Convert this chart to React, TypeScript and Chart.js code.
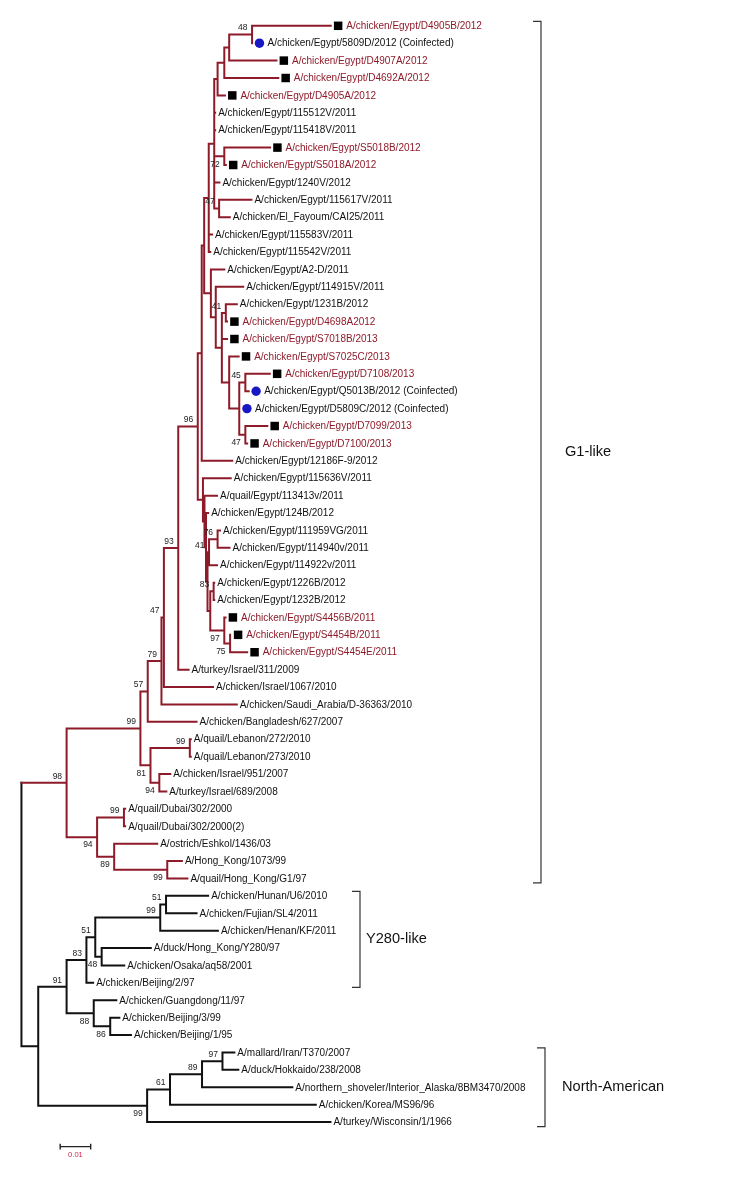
import React, { useEffect, useRef } from 'react';
import { Chart, registerables } from 'chart.js';

Chart.register(...registerables);

// ---------------- data ----------------
const leafNames: string[] = [
  'A/chicken/Egypt/D4905B/2012',
  'A/chicken/Egypt/5809D/2012 (Coinfected)',
  'A/chicken/Egypt/D4907A/2012',
  'A/chicken/Egypt/D4692A/2012',
  'A/chicken/Egypt/D4905A/2012',
  'A/chicken/Egypt/115512V/2011',
  'A/chicken/Egypt/115418V/2011',
  'A/chicken/Egypt/S5018B/2012',
  'A/chicken/Egypt/S5018A/2012',
  'A/chicken/Egypt/1240V/2012',
  'A/chicken/Egypt/115617V/2011',
  'A/chicken/El_Fayoum/CAI25/2011',
  'A/chicken/Egypt/115583V/2011',
  'A/chicken/Egypt/115542V/2011',
  'A/chicken/Egypt/A2-D/2011',
  'A/chicken/Egypt/114915V/2011',
  'A/chicken/Egypt/1231B/2012',
  'A/chicken/Egypt/D4698A2012',
  'A/chicken/Egypt/S7018B/2013',
  'A/chicken/Egypt/S7025C/2013',
  'A/chicken/Egypt/D7108/2013',
  'A/chicken/Egypt/Q5013B/2012 (Coinfected)',
  'A/chicken/Egypt/D5809C/2012 (Coinfected)',
  'A/chicken/Egypt/D7099/2013',
  'A/chicken/Egypt/D7100/2013',
  'A/chicken/Egypt/12186F-9/2012',
  'A/chicken/Egypt/115636V/2011',
  'A/quail/Egypt/113413v/2011',
  'A/chicken/Egypt/124B/2012',
  'A/chicken/Egypt/111959VG/2011',
  'A/chicken/Egypt/114940v/2011',
  'A/chicken/Egypt/114922v/2011',
  'A/chicken/Egypt/1226B/2012',
  'A/chicken/Egypt/1232B/2012',
  'A/chicken/Egypt/S4456B/2011',
  'A/chicken/Egypt/S4454B/2011',
  'A/chicken/Egypt/S4454E/2011',
  'A/turkey/Israel/311/2009',
  'A/chicken/Israel/1067/2010',
  'A/chicken/Saudi_Arabia/D-36363/2010',
  'A/chicken/Bangladesh/627/2007',
  'A/quail/Lebanon/272/2010',
  'A/quail/Lebanon/273/2010',
  'A/chicken/Israel/951/2007',
  'A/turkey/Israel/689/2008',
  'A/quail/Dubai/302/2000',
  'A/quail/Dubai/302/2000(2)',
  'A/ostrich/Eshkol/1436/03',
  'A/Hong_Kong/1073/99',
  'A/quail/Hong_Kong/G1/97',
  'A/chicken/Hunan/U6/2010',
  'A/chicken/Fujian/SL4/2011',
  'A/chicken/Henan/KF/2011',
  'A/duck/Hong_Kong/Y280/97',
  'A/chicken/Osaka/aq58/2001',
  'A/chicken/Beijing/2/97',
  'A/chicken/Guangdong/11/97',
  'A/chicken/Beijing/3/99',
  'A/chicken/Beijing/1/95',
  'A/mallard/Iran/T370/2007',
  'A/duck/Hokkaido/238/2008',
  'A/northern_shoveler/Interior_Alaska/8BM3470/2008',
  'A/chicken/Korea/MS96/96',
  'A/turkey/Wisconsin/1/1966',
];

// distance from root (substitutions/site) at the tip of each leaf
const leafDist: number[] = [
  0.1014, 0.0756, 0.0836, 0.0842, 0.0667, 0.0635, 0.0635, 0.0815, 0.0670, 0.0649,
  0.0754, 0.0683, 0.0625, 0.0619, 0.0665, 0.0727, 0.0706, 0.0674, 0.0674, 0.0712,
  0.0814, 0.0745, 0.0715, 0.0806, 0.0740, 0.0691, 0.0686, 0.0641, 0.0612, 0.0651,
  0.0682, 0.0641, 0.0632, 0.0632, 0.0669, 0.0686, 0.0740, 0.0548, 0.0628, 0.0706,
  0.0574, 0.0555, 0.0555, 0.0488, 0.0475, 0.0340, 0.0340, 0.0445, 0.0526, 0.0544,
  0.0612, 0.0574, 0.0644, 0.0424, 0.0337, 0.0235, 0.0311, 0.0321, 0.0359, 0.0698,
  0.0711, 0.0888, 0.0965, 0.1013,
];

const leafParent: string[] = [
  'n48', 'n48', 'Na', 'Nb', 'Nc', 'P', 'P', 'n72', 'n72', 'P',
  'n47u', 'n47u', 'Q', 'Q', 'N7', 'N6', 'n41', 'n41', 'N5', 'N2',
  'n45', 'n45', 'N1', 'n47e', 'n47e', 'U', 'L0', 'Lr', 'L2', 'n76',
  'n76', 'n41b', 'n83', 'n83', 'n97', 'n75', 'n75', 'n93', 'n47', 'n79',
  'n57', 'n99L', 'n99L', 'n94b', 'n94b', 'nDub', 'nDub', 'n89', 'n99HK', 'n99HK',
  'n51b', 'n51b', 'n99Y', 'n48Y', 'n48Y', 'n83Y', 'n88', 'n86', 'n86', 'n97NA',
  'n97NA', 'n89NA', 'n61', 'n99NA',
];

// 0 = none, 1 = black square (study isolate), 2 = blue circle (co-infected)
const leafMark: number[] = [
  1, 2, 1, 1, 1, 0, 0, 1, 1, 0,
  0, 0, 0, 0, 0, 0, 0, 1, 1, 1,
  1, 2, 2, 1, 1, 0, 0, 0, 0, 0,
  0, 0, 0, 0, 1, 1, 1, 0, 0, 0,
  0, 0, 0, 0, 0, 0, 0, 0, 0, 0,
  0, 0, 0, 0, 0, 0, 0, 0, 0, 0,
  0, 0, 0, 0,
];

const nodeIds: string[] = [
  'root', 'B', 'n98', 'n99a', 'n57', 'n79', 'n47', 'n93', 'n96', 'U',
  'UU', 'Q', 'P', 'Nc', 'Nb', 'Na', 'n48', 'n72', 'n47u', 'N7',
  'N6', 'N5', 'n41', 'N2', 'N1', 'n45', 'n47e', 'L0', 'Lr', 'L2',
  'L1a', 'n41b', 'n76', 'L1b', 'n83', 'n97', 'n75', 'n81', 'n99L', 'n94b',
  'n94c', 'nDub', 'n89', 'n99HK', 'n91', 'n83Y', 'n51', 'n99Y', 'n51b', 'n48Y',
  'n88', 'n86', 'n99NA', 'n61', 'n89NA', 'n97NA',
];

const nodeParents: string[] = [
  '', 'root', 'root', 'n98', 'n99a', 'n57', 'n79', 'n47', 'n93', 'n96',
  'U', 'UU', 'Q', 'P', 'Nc', 'Nb', 'Na', 'P', 'P', 'UU',
  'N7', 'N6', 'N5', 'N5', 'N2', 'N1', 'N1', 'n96', 'L0', 'Lr',
  'L2', 'L1a', 'n41b', 'L1a', 'L1b', 'L1b', 'n97', 'n99a', 'n81', 'n81',
  'n98', 'n94c', 'n94c', 'n89', 'B', 'n91', 'n83Y', 'n51', 'n99Y', 'n51',
  'n91', 'n88', 'B', 'n99NA', 'n61', 'n89NA',
];

const nodeDist: number[] = [
  0.0, 0.0055, 0.0148, 0.0390, 0.0414, 0.0459, 0.0467, 0.0514, 0.0578, 0.0591,
  0.0599, 0.0614, 0.0632, 0.0643, 0.0665, 0.0681, 0.0756, 0.0665, 0.0648, 0.0621,
  0.0637, 0.0657, 0.0670, 0.0681, 0.0714, 0.0734, 0.0734, 0.0595, 0.0600, 0.0605,
  0.0610, 0.0615, 0.0643, 0.0619, 0.0630, 0.0665, 0.0684, 0.0423, 0.0552, 0.0452,
  0.0248, 0.0336, 0.0304, 0.0478, 0.0148, 0.0213, 0.0242, 0.0455, 0.0474, 0.0263,
  0.0237, 0.0291, 0.0412, 0.0487, 0.0592, 0.0659,
];

// bootstrap support ('' = not shown)
const nodeSupport: string[] = [
  '', '', '98', '99', '57', '79', '47', '93', '96', '',
  '', '', '', '', '', '', '48', '72', '47', '',
  '', '', '41', '', '', '45', '47', '', '', '',
  '', '41', '76', '', '83', '97', '75', '81', '99', '94',
  '94', '99', '89', '99', '91', '83', '51', '99', '51', '48',
  '88', '86', '99', '61', '89', '97',
];

// 1 = label above the branch, -1 = below
const nodeSupportSide: number[] = [
  0, 0, 1, 1, 1, 1, 1, 1, 1, 0,
  0, 0, 0, 0, 0, 0, 1, -1, 1, 0,
  0, 0, 1, 0, 0, 1, -1, 0, 0, 0,
  0, 1, 1, 0, 1, -1, -1, -1, 1, -1,
  -1, 1, -1, -1, 1, 1, 1, 1, 1, -1,
  -1, -1, -1, 1, 1, 1,
];

const cladeNames: string[] = ['G1-like', 'Y280-like', 'North-American'];
const cladeFirstLeaf: number[] = [0, 50, 59];
const cladeLastLeaf: number[] = [49, 55, 63];
const redCladeRoot = 'n98';
const scaleBarValue = 0.01;
const scaleBarLabel = '0.01';

// ---------------- layout / style ----------------
const W = 750;
const H = 1180;
const PX_PER_UNIT = 3100; // 0.01 = 31 px
const ROOT_PX = 15.7;
const LEAF_STEP = 17.58;
const FIRST_LEAF_PX = 20;
const X_MIN = -ROOT_PX / PX_PER_UNIT;
const X_MAX = X_MIN + W / PX_PER_UNIT;
const Y_MIN = -FIRST_LEAF_PX / LEAF_STEP;
const Y_MAX = Y_MIN + H / LEAF_STEP;

const RED = '#8e1b2a';
const RED_TEXT = '#8e1b2a';
const BLACK = '#111111';
const BLUE = '#1717c4';
const FONT = '"Liberation Sans", Arial, Helvetica, sans-serif';

const MARK_GAP = 7.5 / PX_PER_UNIT;
const SCALE_BAR_X = 0.0127;
const SCALE_BAR_Y = 64.41;

const bracketPx = [541, 360, 545];
const cladeTextPx = [565, 366, 562];

type Pt = { x: number | null; y: number | null };

function buildTree() {
  const idx: Record<string, number> = {};
  nodeIds.forEach((id, i) => (idx[id] = i));
  const kids: { leaf: boolean; i: number }[][] = nodeIds.map(() => []);
  leafParent.forEach((p, i) => kids[idx[p]].push({ leaf: true, i }));
  nodeParents.forEach((p, i) => {
    if (p) kids[idx[p]].push({ leaf: false, i });
  });
  const nodeY: number[] = nodeIds.map(() => NaN);
  const yOf = (c: { leaf: boolean; i: number }): number => (c.leaf ? c.i : calcY(c.i));
  function calcY(i: number): number {
    if (!isNaN(nodeY[i])) return nodeY[i];
    const ys = kids[i].map(yOf);
    nodeY[i] = (Math.min(...ys) + Math.max(...ys)) / 2;
    return nodeY[i];
  }
  nodeIds.forEach((_, i) => calcY(i));
  const nodeRed = nodeIds.map((id, i) => {
    let cur = i;
    while (cur >= 0) {
      if (nodeIds[cur] === redCladeRoot) return true;
      const p = nodeParents[cur];
      cur = p ? idx[p] : -1;
    }
    return false;
  });
  const red: Pt[] = [];
  const black: Pt[] = [];
  const push = (arr: Pt[], x1: number, y1: number, x2: number, y2: number) => {
    arr.push({ x: x1, y: y1 }, { x: x2, y: y2 }, { x: null, y: null });
  };
  nodeIds.forEach((_, i) => {
    const ys = kids[i].map(yOf);
    push(nodeRed[i] ? red : black, nodeDist[i], Math.min(...ys), nodeDist[i], Math.max(...ys));
    kids[i].forEach((c) => {
      const d = c.leaf ? leafDist[c.i] : nodeDist[c.i];
      const y = yOf(c);
      const isRed = c.leaf ? nodeRed[i] : nodeRed[c.i];
      if (d - nodeDist[i] > 1e-7) push(isRed ? red : black, nodeDist[i], y, d, y);
    });
  });
  return { nodeY, red, black };
}

export default function App() {
  const ref = useRef<HTMLCanvasElement | null>(null);
  useEffect(() => {
    if (!ref.current) return;
    const { nodeY, red, black } = buildTree();
    const squares = leafMark
      .map((m, i) => (m === 1 ? { x: leafDist[i] + MARK_GAP, y: i } : null))
      .filter(Boolean) as Pt[];
    const circles = leafMark
      .map((m, i) => (m === 2 ? { x: leafDist[i] + MARK_GAP, y: i } : null))
      .filter(Boolean) as Pt[];
    const tick = 0.16;
    const sbEnd = SCALE_BAR_X + scaleBarValue;
    const scaleBar: Pt[] = [
      { x: SCALE_BAR_X, y: SCALE_BAR_Y }, { x: sbEnd, y: SCALE_BAR_Y }, { x: null, y: null },
      { x: SCALE_BAR_X, y: SCALE_BAR_Y - tick }, { x: SCALE_BAR_X, y: SCALE_BAR_Y + tick }, { x: null, y: null },
      { x: sbEnd, y: SCALE_BAR_Y - tick }, { x: sbEnd, y: SCALE_BAR_Y + tick },
    ];

    const textPlugin = {
      id: 'treeText',
      afterDatasetsDraw(chart: any) {
        const ctx: CanvasRenderingContext2D = chart.ctx;
        const xs = chart.scales.x;
        const ys = chart.scales.y;
        ctx.save();
        ctx.textBaseline = 'middle';
        // leaf labels
        ctx.font = `10px ${FONT}`;
        ctx.textAlign = 'left';
        leafNames.forEach((name, i) => {
          const px = xs.getPixelForValue(leafDist[i]) + (leafMark[i] ? 15.5 : 3);
          const py = ys.getPixelForValue(i);
          ctx.fillStyle = leafMark[i] === 1 ? RED_TEXT : BLACK;
          ctx.fillText(name, px, py + 0.5);
        });
        // bootstrap values
        ctx.font = `8.5px ${FONT}`;
        ctx.textAlign = 'right';
        ctx.fillStyle = '#222';
        nodeSupport.forEach((s, i) => {
          if (!s) return;
          const px = xs.getPixelForValue(nodeDist[i]) - 4.5;
          const py = ys.getPixelForValue(nodeY[i]) + (nodeSupportSide[i] > 0 ? -6.5 : 8);
          ctx.fillText(s, px, py);
        });
        // clade brackets
        ctx.strokeStyle = '#333';
        ctx.lineWidth = 1.2;
        ctx.font = `14.6px ${FONT}`;
        ctx.textAlign = 'left';
        ctx.fillStyle = '#111';
        cladeNames.forEach((name, k) => {
          const y1 = ys.getPixelForValue(cladeFirstLeaf[k]) - 4.5;
          const y2 = ys.getPixelForValue(cladeLastLeaf[k]) + 4.5;
          const bx = bracketPx[k];
          ctx.beginPath();
          ctx.moveTo(bx - 8, y1);
          ctx.lineTo(bx, y1);
          ctx.lineTo(bx, y2);
          ctx.lineTo(bx - 8, y2);
          ctx.stroke();
          ctx.fillText(name, cladeTextPx[k], (y1 + y2) / 2);
        });
        // scale bar label
        ctx.font = `7.6px ${FONT}`;
        ctx.textAlign = 'center';
        ctx.fillStyle = '#d8204c';
        const sx = (xs.getPixelForValue(SCALE_BAR_X) + xs.getPixelForValue(sbEnd)) / 2;
        ctx.fillText(scaleBarLabel, sx, ys.getPixelForValue(SCALE_BAR_Y) + 8);
        ctx.restore();
      },
    };

    const chart = new Chart(ref.current, {
      type: 'scatter',
      data: {
        datasets: [
          {
            data: red as any,
            showLine: true,
            borderColor: RED,
            borderWidth: 2,
            borderCapStyle: 'square',
            pointRadius: 0,
            spanGaps: false,
          },
          {
            data: black as any,
            showLine: true,
            borderColor: BLACK,
            borderWidth: 2,
            borderCapStyle: 'square',
            pointRadius: 0,
            spanGaps: false,
          },
          {
            data: squares as any,
            pointStyle: 'rect',
            pointRadius: 6,
            pointBorderWidth: 0,
            pointBackgroundColor: '#000',
            backgroundColor: '#000',
            borderWidth: 0,
          },
          {
            data: circles as any,
            pointStyle: 'circle',
            pointRadius: 4.7,
            pointBorderWidth: 0,
            pointBackgroundColor: BLUE,
            backgroundColor: BLUE,
            borderWidth: 0,
          },
          {
            data: scaleBar as any,
            showLine: true,
            borderColor: '#222',
            borderWidth: 1.4,
            pointRadius: 0,
            spanGaps: false,
          },
        ],
      },
      options: {
        animation: false,
        responsive: false,
        devicePixelRatio: 1,
        events: [],
        layout: { padding: 0 },
        plugins: { legend: { display: false }, tooltip: { enabled: false } },
        scales: {
          x: { type: 'linear', min: X_MIN, max: X_MAX, display: false },
          y: { type: 'linear', min: Y_MIN, max: Y_MAX, reverse: true, display: false },
        },
      },
      plugins: [textPlugin],
    });
    return () => chart.destroy();
  }, []);

  return (
    <div style={{ position: 'absolute', left: 0, top: 0, width: W, height: H, background: '#fff' }}>
      <canvas ref={ref} width={W} height={H} style={{ display: 'block' }} />
    </div>
  );
}
